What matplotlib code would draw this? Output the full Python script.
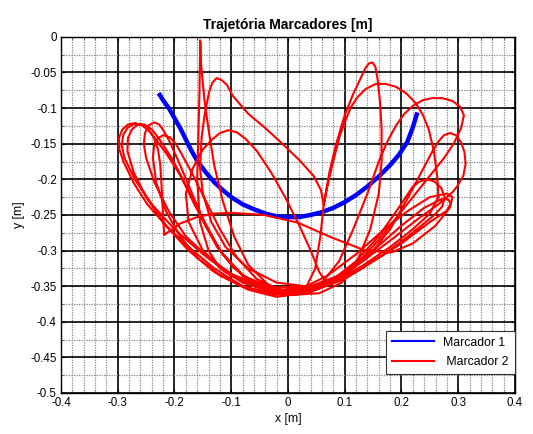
import matplotlib
matplotlib.use("Agg")
import matplotlib.pyplot as plt
from matplotlib.ticker import MultipleLocator
from matplotlib.lines import Line2D

plt.rcParams['font.family'] = ['Liberation Sans', 'DejaVu Sans']

# Marcador 1 (trajetoria do primeiro marcador)
m1_x = [-0.228, -0.22, -0.21, -0.2, -0.19, -0.18, -0.17, -0.16, -0.145, -0.13, -0.115,
        -0.1, -0.08, -0.06, -0.04, -0.02, 0.0, 0.02, 0.04, 0.06, 0.08, 0.1, 0.12, 0.14,
        0.16, 0.18, 0.195, 0.21, 0.22, 0.228]
m1_y = [-0.079, -0.089, -0.1, -0.114, -0.128, -0.144, -0.16, -0.174, -0.19, -0.204, -0.215,
        -0.225, -0.235, -0.242, -0.248, -0.252, -0.253, -0.253, -0.25, -0.246, -0.24, -0.232,
        -0.222, -0.21, -0.196, -0.18, -0.166, -0.148, -0.127, -0.106]

# Marcador 2 (caminho aproximado)
m2_pts = [
    (-0.155, -0.005), (-0.153, -0.04), (-0.147, -0.09), (-0.14, -0.13), (-0.13, -0.18),
    (-0.115, -0.23), (-0.095, -0.28), (-0.07, -0.32), (-0.035, -0.348), (0.0, -0.36),
    (0.04, -0.358), (0.08, -0.345),
    # laco direito (topo ~0.25, -0.087)
    (0.12, -0.32), (0.16, -0.285), (0.2, -0.245), (0.24, -0.205), (0.275, -0.17),
    (0.292, -0.15), (0.305, -0.128), (0.31, -0.11), (0.303, -0.098), (0.29, -0.09),
    (0.272, -0.086), (0.254, -0.086), (0.237, -0.089), (0.22, -0.097), (0.205, -0.108),
    (0.19, -0.125), (0.175, -0.147), (0.16, -0.175), (0.14, -0.22),
    (0.115, -0.27), (0.09, -0.315), (0.06, -0.345), (0.02, -0.36), (-0.03, -0.362),
    (-0.08, -0.35), (-0.13, -0.325),
    # laco esquerdo externo
    (-0.175, -0.295), (-0.215, -0.265), (-0.248, -0.235), (-0.272, -0.205), (-0.29, -0.175),
    (-0.297, -0.158), (-0.298, -0.142), (-0.292, -0.13), (-0.282, -0.123), (-0.27, -0.121),
    (-0.257, -0.124), (-0.245, -0.132), (-0.235, -0.142), (-0.215, -0.163), (-0.193, -0.19),
    (-0.172, -0.222), (-0.15, -0.258), (-0.125, -0.295),
    (-0.095, -0.325), (-0.055, -0.348), (-0.01, -0.36), (0.03, -0.355),
    # pico alto (0.15, -0.036)
    (0.048, -0.325), (0.057, -0.28), (0.063, -0.236), (0.073, -0.19), (0.085, -0.15),
    (0.1, -0.11), (0.115, -0.08), (0.13, -0.055), (0.137, -0.043), (0.143, -0.037),
    (0.149, -0.036), (0.154, -0.042), (0.158, -0.06), (0.162, -0.09), (0.165, -0.13),
    (0.165, -0.175), (0.16, -0.22),
    (0.145, -0.27), (0.122, -0.315), (0.095, -0.345), (0.055, -0.36), (0.01, -0.362),
    (-0.04, -0.356), (-0.09, -0.338),
    (-0.14, -0.31), (-0.18, -0.28), (-0.21, -0.245), (-0.235, -0.205), (-0.25, -0.17),
    (-0.254, -0.15), (-0.252, -0.135), (-0.245, -0.124), (-0.236, -0.12), (-0.227, -0.123),
    (-0.218, -0.133), (-0.208, -0.148),
    (-0.19, -0.18), (-0.168, -0.222), (-0.145, -0.265), (-0.115, -0.305), (-0.08, -0.335),
    (-0.04, -0.352), (0.0, -0.357), (0.04, -0.352), (0.08, -0.34),
    (0.12, -0.315), (0.16, -0.28), (0.195, -0.24), (0.22, -0.21), (0.232, -0.203),
    (0.245, -0.2), (0.258, -0.203), (0.27, -0.212), (0.276, -0.225), (0.272, -0.238),
    (0.258, -0.25), (0.215, -0.278),
    (0.17, -0.305), (0.12, -0.33), (0.07, -0.348), (0.02, -0.358), (-0.03, -0.36),
    (-0.08, -0.35),
    (-0.13, -0.33), (-0.175, -0.3), (-0.215, -0.265), (-0.25, -0.225), (-0.272, -0.19),
    (-0.283, -0.16), (-0.282, -0.142), (-0.275, -0.13), (-0.265, -0.123), (-0.253, -0.123),
    (-0.24, -0.13), (-0.228, -0.142),
    (-0.205, -0.17), (-0.185, -0.2), (-0.165, -0.235), (-0.15, -0.255), (-0.12, -0.3),
    (-0.08, -0.335), (-0.03, -0.352), (0.03, -0.35),
    (-0.02, -0.345), (-0.07, -0.325), (-0.11, -0.295), (-0.135, -0.26), (-0.15, -0.22),
    (-0.155, -0.184), (-0.152, -0.14), (-0.147, -0.11), (-0.139, -0.077), (-0.133, -0.064),
    (-0.126, -0.058), (-0.118, -0.06), (-0.108, -0.067), (-0.097, -0.083), (-0.07, -0.108),
    (-0.04, -0.128), (-0.01, -0.15), (0.02, -0.173), (0.045, -0.195), (0.058, -0.215),
    (0.063, -0.236),
    # arco grande (topo 0.16, -0.066)
    (0.068, -0.215), (0.078, -0.18), (0.092, -0.137), (0.11, -0.1), (0.122, -0.085),
    (0.137, -0.073), (0.155, -0.066), (0.172, -0.066), (0.19, -0.07), (0.208, -0.079),
    (0.225, -0.093), (0.238, -0.11), (0.248, -0.13),
    (0.257, -0.16), (0.263, -0.197), (0.265, -0.225), (0.25, -0.248), (0.22, -0.27),
    (0.18, -0.295), (0.13, -0.322), (0.08, -0.345), (0.03, -0.36), (-0.02, -0.365),
    (-0.07, -0.355), (-0.12, -0.335),
    (-0.16, -0.31), (-0.19, -0.28), (-0.215, -0.245), (-0.232, -0.205), (-0.238, -0.17),
    (-0.236, -0.153), (-0.23, -0.143), (-0.22, -0.138), (-0.208, -0.141), (-0.197, -0.151),
    (-0.185, -0.168), (-0.17, -0.19),
    (-0.145, -0.23), (-0.12, -0.27), (-0.09, -0.31), (-0.055, -0.34), (-0.01, -0.357),
    (0.04, -0.355), (0.09, -0.34),
    (0.14, -0.31), (0.18, -0.27), (0.212, -0.225), (0.235, -0.19), (0.255, -0.16),
    (0.265, -0.147), (0.275, -0.138), (0.285, -0.135), (0.296, -0.138), (0.305, -0.148),
    (0.311, -0.162), (0.313, -0.178), (0.309, -0.195), (0.298, -0.21),
    (0.29, -0.218), (0.265, -0.235), (0.23, -0.255), (0.19, -0.28),
    (0.14, -0.31), (0.09, -0.335), (0.04, -0.35), (-0.01, -0.355), (-0.06, -0.345),
    (-0.11, -0.33), (-0.15, -0.3), (-0.175, -0.26), (-0.18, -0.22), (-0.168, -0.185),
    (-0.15, -0.158), (-0.135, -0.145), (-0.12, -0.135), (-0.105, -0.131), (-0.09, -0.134),
    (-0.075, -0.143), (-0.055, -0.16),
    (-0.03, -0.19), (-0.005, -0.225), (0.02, -0.265), (0.04, -0.3), (0.055, -0.33),
    (0.07, -0.348),
    (0.1, -0.33), (0.15, -0.3), (0.2, -0.265), (0.24, -0.24), (0.27, -0.228),
    (0.282, -0.228), (0.287, -0.234), (0.28, -0.244), (0.25, -0.26), (0.2, -0.29),
    (0.15, -0.315), (0.1, -0.34), (0.05, -0.355), (0.0, -0.36), (-0.05, -0.352),
    (-0.1, -0.335), (-0.15, -0.305), (-0.2, -0.27), (-0.24, -0.235), (-0.27, -0.2),
    (-0.288, -0.17), (-0.293, -0.152), (-0.29, -0.137), (-0.282, -0.127), (-0.27, -0.122),
    (-0.258, -0.123), (-0.247, -0.129), (-0.237, -0.14), (-0.229, -0.158),
    (-0.225, -0.18), (-0.222, -0.22), (-0.22, -0.255), (-0.218, -0.278),
    (-0.19, -0.262), (-0.16, -0.253), (-0.13, -0.248), (-0.1, -0.247), (-0.042, -0.25),
    (0.018, -0.261), (0.075, -0.281), (0.133, -0.299), (0.181, -0.303),
    (0.22, -0.29), (0.26, -0.265), (0.285, -0.24), (0.29, -0.225), (0.28, -0.22),
    (0.25, -0.225), (0.21, -0.245), (0.17, -0.27), (0.12, -0.305), (0.07, -0.335),
    (0.02, -0.355), (-0.03, -0.358), (-0.08, -0.345), (-0.12, -0.325),
    (-0.14, -0.3), (-0.155, -0.26), (-0.16, -0.2), (-0.158, -0.14), (-0.156, -0.08),
    (-0.155, -0.03), (-0.154, -0.008),
]
m2_x = [p[0] for p in m2_pts]
m2_y = [p[1] for p in m2_pts]

x_ticks = [-0.4, -0.3, -0.2, -0.1, 0, 0.1, 0.2, 0.3, 0.4]
x_labels = ['-0.4', '-0.3', '-0.2', '-0.1', '0', '0.1', '0.2', '0.3', '0.4']
y_ticks = [0, -0.05, -0.1, -0.15, -0.2, -0.25, -0.3, -0.35, -0.4, -0.45, -0.5]
y_labels = ['0', '-0.05', '-0.1', '-0.15', '-0.2', '-0.25', '-0.3', '-0.35', '-0.4', '-0.45', '-0.5']

fig = plt.figure(figsize=(5.33, 4.34), dpi=100)
ax = fig.add_axes([0.1144, 0.0945, 0.8518, 0.8205])

ax.plot(m1_x, m1_y, color='#0000ff', lw=3.2, solid_capstyle='butt', zorder=3)
ax.plot(m2_x, m2_y, color='#ff0000', lw=1.5, solid_joinstyle='round', zorder=4)

ax.set_xlim(-0.4, 0.4)
ax.set_ylim(-0.5, 0)
ax.set_xticks(x_ticks)
ax.set_xticklabels(x_labels)
ax.set_yticks(y_ticks)
ax.set_yticklabels(y_labels)
ax.xaxis.set_minor_locator(MultipleLocator(0.02))
ax.yaxis.set_minor_locator(MultipleLocator(0.025))
ax.tick_params(which='both', direction='in', top=True, right=True, labelsize=8.3,
               colors='black')
ax.tick_params(which='major', length=3, pad=3)
ax.tick_params(which='minor', length=1.5)

ax.grid(which='major', color='black', lw=1.2, ls='-')
ax.grid(which='minor', color='#888888', lw=0.9, ls=(0, (1, 1)))
ax.set_axisbelow(True)
for s in ax.spines.values():
    s.set_linewidth(1.0)
    s.set_color('black')

ax.set_title('Trajetória Marcadores [m]', fontsize=10, fontweight='bold', pad=6)
ax.set_xlabel('x [m]', fontsize=8.8, labelpad=3)
ax.set_ylabel('y [m]', fontsize=8.8, labelpad=4)

handles = [Line2D([], [], color='#0000ff', lw=1.5),
           Line2D([], [], color='#ff0000', lw=1.5)]
leg = ax.legend(handles, ['Marcador 1', ' Marcador 2'], loc='lower right',
                bbox_to_anchor=(1.0, 0.053), borderaxespad=0,
                fontsize=8.8, fancybox=False, framealpha=1, edgecolor='#333333',
                handlelength=3.4, borderpad=0.5, labelspacing=0.6)
leg.get_frame().set_linewidth(0.8)

fig.savefig('out.png', dpi=100)
